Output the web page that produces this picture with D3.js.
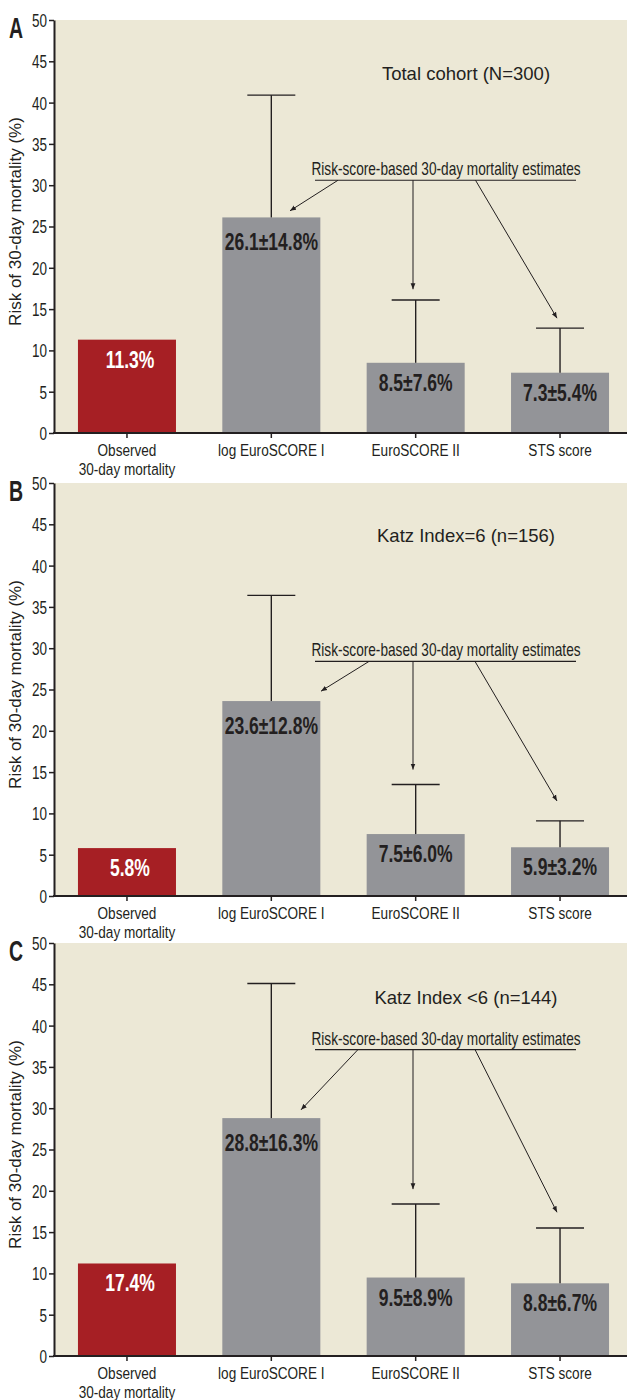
<html>
  <head>
    <script src="https://d3js.org/d3.v7.min.js"></script>
    <style>
      body {
        margin: 0;
        background: #fff;
      }
      svg text {
        font-family: "Liberation Sans", Arial, sans-serif;
      }
      .axis path,
      .axis line {
        stroke: #231f20;
      }
      .axis path {
        stroke-width: 2px;
      }
      .axis line {
        stroke-width: 1.5px;
      }
    </style>
  </head>
  <body>
    <svg id="chart" width="627" height="1400"></svg>

    <script>
      // categories along the x axis (two-line label for the first)
      const categories = [
        ["Observed", "30-day mortality"],
        ["log EuroSCORE I"],
        ["EuroSCORE II"],
        ["STS score"],
      ];
      const yTicks = [0, 5, 10, 15, 20, 25, 30, 35, 40, 45, 50];
      const noteText = "Risk-score-based 30-day mortality estimates";

      // panel A - total cohort
      const totalValues = [11.3, 26.1, 8.5, 7.3];
      const totalSD = [null, 14.8, 7.6, 5.4];
      const totalLabels = ["11.3%", "26.1±14.8%", "8.5±7.6%", "7.3±5.4%"];

      // panel B - Katz index = 6
      const katz6Values = [5.8, 23.6, 7.5, 5.9];
      const katz6SD = [null, 12.8, 6.0, 3.2];
      const katz6Labels = ["5.8%", "23.6±12.8%", "7.5±6.0%", "5.9±3.2%"];

      // panel C - Katz index < 6 (observed bar is drawn at ~11 in the original)
      const katzLowValues = [11.2, 28.8, 9.5, 8.8];
      const katzLowSD = [null, 16.3, 8.9, 6.7];
      const katzLowLabels = ["17.4%", "28.8±16.3%", "9.5±8.9%", "8.8±6.7%"];

      const panelLetters = ["A", "B", "C"];
      const panelTitles = [
        "Total cohort (N=300)",
        "Katz Index=6 (n=156)",
        "Katz Index <6 (n=144)",
      ];

      const panels = [
        {
          values: totalValues, sd: totalSD, labels: totalLabels,
          top: 20, titleY: 43.5, noteY: 30.6,
          arrowStartX: [338, 413, 475.5],
          arrowEnd: [[290, 26.9], [413, 17.4], [557, 13.9]],
        },
        {
          values: katz6Values, sd: katz6SD, labels: katz6Labels,
          top: 483, titleY: 43.6, noteY: 28.4,
          arrowStartX: [369, 413, 475],
          arrowEnd: [[321, 24.8], [413, 15.3], [557, 11.5]],
        },
        {
          values: katzLowValues, sd: katzLowSD, labels: katzLowLabels,
          top: 943, titleY: 43.3, noteY: 37.1,
          arrowStartX: [358, 413, 475],
          arrowEnd: [[301, 29.8], [413, 20.2], [557, 17.4]],
        },
      ];

      const svg = d3.select("#chart");
      const plotLeft = 54;
      const plotRight = 627;
      const plotHeight = 413;
      const ink = "#231f20";

      // no condensed font installed: squeeze Liberation Sans horizontally instead
      function condense(sel, k) {
        sel.each(function () {
          const t = d3.select(this);
          const x0 = +t.attr("x") || 0;
          const y0 = +t.attr("y") || 0;
          t.attr(
            "transform",
            "translate(" + x0 + "," + y0 + ") scale(" + k + ",1)"
          )
            .attr("x", 0)
            .attr("y", 0);
        });
      }

      svg
        .append("defs")
        .append("marker")
        .attr("id", "arrow")
        .attr("markerUnits", "userSpaceOnUse")
        .attr("markerWidth", 6)
        .attr("markerHeight", 6)
        .attr("refX", 6)
        .attr("refY", 3)
        .attr("orient", "auto")
        .append("path")
        .attr("d", "M0,0.6 L6,3 L0,5.4 z")
        .attr("fill", ink);

      const x = d3
        .scaleBand()
        .domain(d3.range(categories.length))
        .range([plotLeft, 633])
        .paddingInner(0.321)
        .paddingOuter(0.166);

      panels.forEach((p, i) => {
        const bottom = p.top + plotHeight;
        const y = d3.scaleLinear().domain([0, 50]).range([bottom, p.top]);
        const g = svg.append("g");

        // beige plot background
        g.append("rect")
          .attr("x", plotLeft)
          .attr("y", p.top)
          .attr("width", plotRight - plotLeft)
          .attr("height", plotHeight)
          .attr("fill", "#ece8d6");

        // bars
        g.selectAll("rect.bar")
          .data(p.values)
          .join("rect")
          .attr("class", "bar")
          .attr("x", (d, j) => x(j))
          .attr("width", x.bandwidth())
          .attr("y", (d) => y(d))
          .attr("height", (d) => bottom - y(d))
          .attr("fill", (d, j) => (j === 0 ? "#a61f24" : "#939498"));

        // error bars (mean + SD, upper only)
        const errs = p.values
          .map((v, j) => ({ v: v, sd: p.sd[j], j: j }))
          .filter((d) => d.sd !== null);
        const eg = g
          .selectAll("g.err")
          .data(errs)
          .join("g")
          .attr("class", "err")
          .attr("stroke", ink)
          .attr("stroke-width", 1.4);
        eg.append("line")
          .attr("x1", (d) => x(d.j) + x.bandwidth() / 2)
          .attr("x2", (d) => x(d.j) + x.bandwidth() / 2)
          .attr("y1", (d) => y(d.v))
          .attr("y2", (d) => y(d.v + d.sd));
        eg.append("line")
          .attr("x1", (d) => x(d.j) + x.bandwidth() / 2 - 24)
          .attr("x2", (d) => x(d.j) + x.bandwidth() / 2 + 24)
          .attr("y1", (d) => y(d.v + d.sd))
          .attr("y2", (d) => y(d.v + d.sd));

        // value labels inside bars
        g.selectAll("text.val")
          .data(p.labels)
          .join("text")
          .attr("class", "val")
          .attr("x", (d, j) => x(j) + x.bandwidth() / 2 + (j === 0 ? 3 : 0))
          .attr("y", (d, j) => y(p.values[j]) + (j === 1 ? 33 : 28))
          .attr("text-anchor", "middle")
          .attr("font-size", 24)
          .attr("font-weight", "bold")
          .attr("fill", (d, j) => (j === 0 ? "#fff" : ink))
          .text((d) => d)
          .call(condense, 0.73);

        // y axis
        const yAxis = g
          .append("g")
          .attr("class", "axis")
          .attr("transform", "translate(" + plotLeft + ",0)")
          .call(
            d3
              .axisLeft(y)
              .tickValues(yTicks)
              .tickSize(5)
              .tickSizeOuter(0)
              .tickPadding(2)
          );
        yAxis
          .selectAll("text")
          .attr("font-size", 18)
          .attr("fill", ink)
          .attr("dy", "0.36em")
          .call(condense, 0.75);

        // x axis
        const xAxis = g
          .append("g")
          .attr("class", "axis")
          .attr("transform", "translate(0," + bottom + ")")
          .call(d3.axisBottom(x).tickSize(5).tickSizeOuter(0));
        xAxis.select(".domain").attr("d", "M" + (plotLeft - 1) + ",0H" + plotRight);
        xAxis
          .selectAll("text")
          .attr("font-size", 17)
          .attr("fill", ink)
          .attr("y", 23)
          .attr("dy", null)
          .text(null)
          .call(condense, 0.8)
          .selectAll("tspan")
          .data((d) => categories[d])
          .join("tspan")
          .attr("x", 0)
          .attr("dy", (d, k) => (k === 0 ? 0 : 19))
          .text((d) => d);

        // y axis title
        g.append("text")
          .attr(
            "transform",
            "translate(21," + (p.top + plotHeight / 2 - 5) + ") rotate(-90)"
          )
          .attr("text-anchor", "middle")
          .attr("font-size", 17)
          .attr("fill", ink)
          .text("Risk of 30-day mortality (%)");

        // panel letter
        g.append("text")
          .attr("x", 9)
          .attr("y", p.top + 18)
          .attr("font-size", 30)
          .attr("font-weight", "bold")
          .attr("fill", ink)
          .text(panelLetters[i])
          .call(condense, 0.65);

        // panel title
        g.append("text")
          .attr("x", 466)
          .attr("y", y(p.titleY) + 6)
          .attr("text-anchor", "middle")
          .attr("font-size", 18.5)
          .attr("fill", ink)
          .text(panelTitles[i]);

        // annotation: heading, underline and arrows
        const noteY = y(p.noteY);
        g.append("text")
          .attr("x", 446)
          .attr("y", noteY - 5)
          .attr("text-anchor", "middle")
          .attr("font-size", 18.7)
          .attr("fill", ink)
          .text(noteText)
          .call(condense, 0.73);
        g.append("line")
          .attr("x1", 315)
          .attr("x2", 576)
          .attr("y1", noteY)
          .attr("y2", noteY)
          .attr("stroke", ink)
          .attr("stroke-width", 1.2);
        g.selectAll("line.arrow")
          .data(p.arrowEnd)
          .join("line")
          .attr("class", "arrow")
          .attr("x1", (d, k) => p.arrowStartX[k])
          .attr("y1", noteY)
          .attr("x2", (d) => d[0])
          .attr("y2", (d) => y(d[1]))
          .attr("stroke", ink)
          .attr("stroke-width", 1)
          .attr("marker-end", "url(#arrow)");
      });
    </script>
  </body>
</html>
